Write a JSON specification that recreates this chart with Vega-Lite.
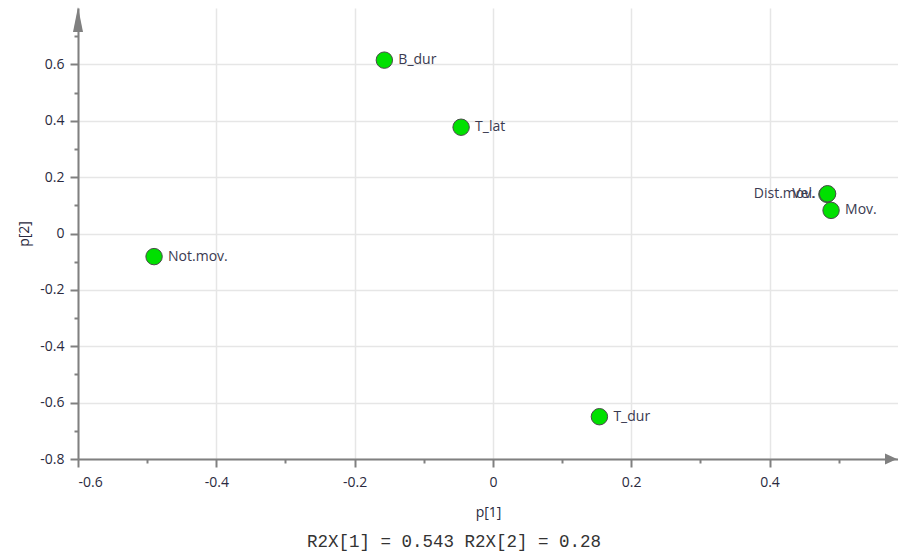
{
  "$schema": "https://vega.github.io/schema/vega-lite/v6.json",
  "width": 820,
  "height": 451,
  "autosize": "none",
  "padding": {"left": 78, "top": 8, "right": 0, "bottom": 95},
  "background": "white",
  "title": {
    "text": "R2X[1] = 0.543 R2X[2] = 0.28",
    "orient": "bottom",
    "anchor": "middle",
    "font": "Liberation Mono",
    "fontSize": 17.5,
    "fontWeight": "normal",
    "color": "#333333",
    "dx": -34,
    "offset": 14
  },
  "config": {
    "view": {"stroke": null},
    "axis": {
      "labelFont": "Open Sans",
      "labelFontSize": 14,
      "labelColor": "#2a2a40",
      "titleFont": "Open Sans",
      "titleFontSize": 14,
      "titleFontWeight": "normal",
      "titleColor": "#2a2a40",
      "domainColor": "#808080",
      "domainWidth": 2,
      "tickColor": "#808080",
      "tickWidth": 2,
      "gridColor": "#e6e6e6",
      "gridWidth": 1.5
    }
  },
  "datasets": {
    "pts": [
      {"name": "B_dur", "p1": -0.157, "p2": 0.615},
      {"name": "T_lat", "p1": -0.046, "p2": 0.377},
      {"name": "Dist.mov.", "p1": 0.483, "p2": 0.139},
      {"name": "Vel.", "p1": 0.484, "p2": 0.141},
      {"name": "Mov.", "p1": 0.489, "p2": 0.082},
      {"name": "Not.mov.", "p1": -0.49, "p2": -0.082},
      {"name": "T_dur", "p1": 0.154, "p2": -0.65}
    ],
    "arrows": [
      {"dir": "up", "p1": -0.6, "p2": 0.759},
      {"dir": "right", "p1": 0.5757, "p2": -0.8}
    ]
  },
  "layer": [
    {
      "data": {"name": "pts"},
      "mark": {"type": "point", "opacity": 0},
      "encoding": {
        "x": {
          "field": "p1", "type": "quantitative",
          "scale": {"domain": [-0.6, 0.5858], "nice": false, "zero": false},
          "axis": {
            "orient": "bottom",
            "title": "p[1]",
            "values": [-0.6, -0.4, -0.2, 0, 0.2, 0.4],
            "format": "~g",
            "labelExpr": "replace(datum.label, '\u2212', '-')",
            "grid": true,
            "tickSize": 8,
            "labelPadding": 8,
            "titlePadding": 16
          }
        },
        "y": {
          "field": "p2", "type": "quantitative",
          "scale": {"domain": [-0.8, 0.8], "nice": false, "zero": false},
          "axis": {
            "orient": "left",
            "title": "p[2]",
            "values": [-0.8, -0.6, -0.4, -0.2, 0, 0.2, 0.4, 0.6],
            "format": "~g",
            "labelExpr": "replace(datum.label, '\u2212', '-')",
            "grid": true,
            "tickSize": 8,
            "labelPadding": 6,
            "titlePadding": 8
          }
        }
      }
    },
    {
      "data": {"name": "pts"},
      "mark": {"type": "point", "opacity": 0},
      "encoding": {
        "x": {
          "field": "p1", "type": "quantitative",
          "axis": {
            "orient": "bottom",
            "title": null,
            "values": [-0.5, -0.3, -0.1, 0.1, 0.3, 0.5],
            "labels": false,
            "grid": false,
            "domain": false,
            "tickSize": 4
          }
        },
        "y": {
          "field": "p2", "type": "quantitative",
          "axis": {
            "orient": "left",
            "title": null,
            "values": [-0.7, -0.5, -0.3, -0.1, 0.1, 0.3, 0.5, 0.7],
            "labels": false,
            "grid": false,
            "domain": false,
            "tickSize": 4
          }
        }
      }
    },
    {
      "mark": {"type": "rule", "color": "#808080", "strokeWidth": 1.5},
      "encoding": {
        "x": {"datum": 0, "type": "quantitative", "axis": null},
        "y": {"datum": -0.8, "type": "quantitative", "axis": null},
        "y2": {"datum": 0.8}
      }
    },
    {
      "mark": {"type": "rule", "color": "#808080", "strokeWidth": 1.5},
      "encoding": {
        "y": {"datum": 0, "type": "quantitative", "axis": null},
        "x": {"datum": -0.6, "type": "quantitative", "axis": null},
        "x2": {"datum": 0.5858}
      }
    },
    {
      "data": {"name": "arrows"},
      "transform": [{"filter": "datum.dir === 'up'"}],
      "mark": {"type": "point", "filled": true, "color": "#808080", "opacity": 1, "shape": "M-0.4,1L0,-1L0.4,1Z", "size": 625},
      "encoding": {
        "x": {"field": "p1", "type": "quantitative", "axis": null},
        "y": {"field": "p2", "type": "quantitative", "axis": null}
      }
    },
    {
      "data": {"name": "arrows"},
      "transform": [{"filter": "datum.dir === 'right'"}],
      "mark": {"type": "point", "filled": true, "color": "#808080", "opacity": 1, "shape": "M-1,-0.9L1,0L-1,0.9Z", "size": 144},
      "encoding": {
        "x": {"field": "p1", "type": "quantitative", "axis": null},
        "y": {"field": "p2", "type": "quantitative", "axis": null}
      }
    },
    {
      "data": {"name": "pts"},
      "mark": {"type": "point", "shape": "circle", "filled": true, "fill": "#00e000", "stroke": "#4a4a4a", "strokeWidth": 1, "opacity": 1, "size": 270},
      "encoding": {
        "x": {"field": "p1", "type": "quantitative", "axis": null},
        "y": {"field": "p2", "type": "quantitative", "axis": null}
      }
    },
    {
      "data": {"name": "pts"},
      "transform": [{"filter": "datum.name !== 'Dist.mov.' && datum.name !== 'Vel.'"}],
      "mark": {"type": "text", "align": "left", "baseline": "middle", "dx": 14, "font": "Open Sans", "fontSize": 14, "color": "#3a3a50"},
      "encoding": {
        "x": {"field": "p1", "type": "quantitative", "axis": null},
        "y": {"field": "p2", "type": "quantitative", "axis": null},
        "text": {"field": "name"}
      }
    },
    {
      "data": {"name": "pts"},
      "transform": [{"filter": "datum.name === 'Dist.mov.' || datum.name === 'Vel.'"}],
      "mark": {"type": "text", "align": "right", "baseline": "middle", "dx": -12, "font": "Open Sans", "fontSize": 14, "color": "#3a3a50"},
      "encoding": {
        "x": {"field": "p1", "type": "quantitative", "axis": null},
        "y": {"field": "p2", "type": "quantitative", "axis": null},
        "text": {"field": "name"}
      }
    }
  ],
  "resolve": {"axis": {"x": "independent", "y": "independent"}}
}
